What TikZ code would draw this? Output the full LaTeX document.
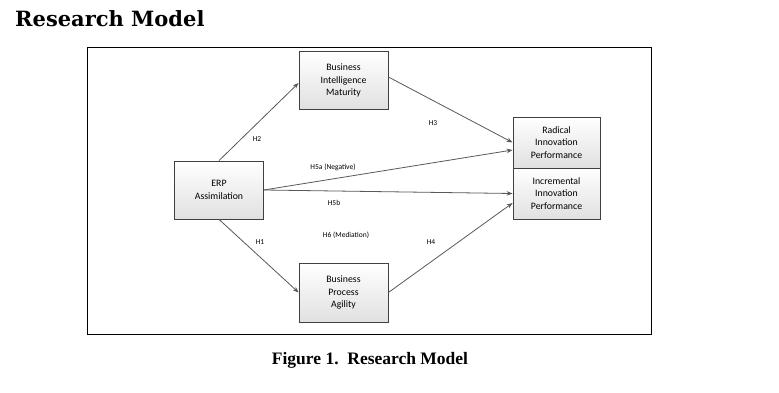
\documentclass[tikz,border=0pt]{standalone}
\usepackage{fontspec}
\setmainfont{Liberation Serif}
\newfontfamily\boxfont{Carlito}
\newfontfamily\titlefont{DejaVu Serif}
\usetikzlibrary{arrows.meta,calc}
\begin{document}
\begin{tikzpicture}[x=1pt,y=-1pt,
  box/.style={draw=black!75,line width=0.8pt,top color=white,bottom color=black!12,
    minimum width=89pt,minimum height=58pt,align=center,inner sep=1pt,
    font=\boxfont\fontsize{9.8}{12.6}\selectfont},
  link/.style={draw=black!65,line width=0.8pt,-{Stealth[length=6pt,width=4.5pt]}},
  lab/.style={font=\boxfont\fontsize{7.5}{9}\selectfont,inner sep=0pt}]
\useasboundingbox (0,0) rectangle (779,393);
\fill[white] (0,0) rectangle (779,393);
\node[anchor=base west,inner sep=0pt,font=\titlefont\bfseries\fontsize{21}{24}\selectfont] (title) at (15,27) {Research Model};
\draw[line width=1pt] (87,48) rectangle (651,334);
\node[box] (bi) at (343.5,80.5) {Business\\Intelligence\\Maturity};
\node[box] (erp) at (219,190) {ERP\\Assimilation};
\node[box,minimum height=59pt] (bpa) at (343.5,292.5) {Business\\Process\\Agility};
\node[box,minimum width=87pt,minimum height=51pt] (rad) at (556.5,142.5) {Radical\\Innovation\\Performance};
\node[box,minimum width=87pt,minimum height=51pt] (inc) at (556.5,193.5) {Incremental\\Innovation\\Performance};
\draw[link] (erp.north) -- ($(bi.west)+(0,2.5)$);
\draw[link] ($(bi.east)+(0,-3.5)$) -- (rad.west);
\draw[link] (erp.east) -- ($(rad.west)+(0,7.5)$);
\draw[link] (erp.east) -- (inc.west);
\draw[link] (erp.south) -- (bpa.west);
\draw[link] (bpa.east) -- ($(inc.west)+(0,9.5)$);
\node[lab] (h2) at (257,139) {H2};
\node[lab] (h3) at (433,123) {H3};
\node[lab] (h5a) at (333,167) {H5a (Negative)};
\node[lab] (h5b) at (334,203) {H5b};
\node[lab] (h6) at (346,235) {H6 (Mediation)};
\node[lab] (h1) at (260,242) {H1};
\node[lab] (h4) at (431,242) {H4};
\node[anchor=base,inner sep=0pt,font=\bfseries\fontsize{17.5}{19}\selectfont] (cap) at (370,364) {Figure 1.\ \ Research Model};
\end{tikzpicture}
\end{document}
